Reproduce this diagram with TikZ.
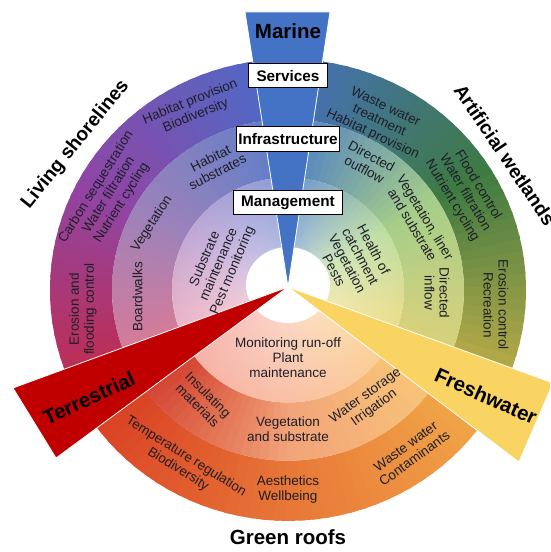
\documentclass[tikz,border=0pt]{standalone}
\usepackage{fontspec}
\setmainfont{Liberation Sans}
\usetikzlibrary{fadings}

% palette
\definecolor{marineblue}{HTML}{4472C4}
\definecolor{terrared}{HTML}{C00000}
\definecolor{freshgold}{HTML}{F9D463}
\definecolor{inkc}{HTML}{1E1E28}
\definecolor{wetO1}{HTML}{C4B048}\definecolor{wetO2}{HTML}{3E7A42}\definecolor{wetO3}{HTML}{4670C2}
\definecolor{wetM1}{HTML}{E0D27A}\definecolor{wetM2}{HTML}{A6CE88}\definecolor{wetM3}{HTML}{4C7CC8}
\definecolor{wetI1}{HTML}{F4DE88}\definecolor{wetI2}{HTML}{BEDEA2}\definecolor{wetI3}{HTML}{6690D0}
\definecolor{shoO1}{HTML}{4A6CC8}\definecolor{shoO2}{HTML}{8E46A6}\definecolor{shoO3}{HTML}{C42A48}
\definecolor{shoM1}{HTML}{5E7EC8}\definecolor{shoM2}{HTML}{9C82BA}\definecolor{shoM3}{HTML}{E07A92}
\definecolor{shoI1}{HTML}{8A9CD8}\definecolor{shoI2}{HTML}{C2A8D6}\definecolor{shoI3}{HTML}{F6B8C2}
\definecolor{roofO1}{HTML}{D83C22}\definecolor{roofO2}{HTML}{E87838}\definecolor{roofO3}{HTML}{F2AC4A}
\definecolor{roofM1}{HTML}{D03A2A}\definecolor{roofM2}{HTML}{F2A47A}\definecolor{roofM3}{HTML}{F8C878}
\definecolor{roofI1}{HTML}{F6B0A8}\definecolor{roofI2}{HTML}{F9C0A4}\definecolor{roofI3}{HTML}{FCD294}

% annular band from angle #3 to #4, radii #1..#2, blended through #5 -> #6 -> #7
\newcommand{\ringband}[7]{%
  \foreach \k in {0,...,39}{%
    \pgfmathsetmacro{\angA}{#3+(#4-#3)*\k/40}%
    \pgfmathsetmacro{\angB}{#3+(#4-#3)*(\k+1.4)/40}%
    \ifnum\k<20
      \pgfmathtruncatemacro{\mixp}{100-\k*5}%
      \colorlet{bandcol}{#5!\mixp!#6}%
    \else
      \pgfmathtruncatemacro{\mixp}{100-(\k-20)*5}%
      \colorlet{bandcol}{#6!\mixp!#7}%
    \fi
    \fill[bandcol] (\angA:#1) arc[start angle=\angA, end angle=\angB, radius=#1]
      -- (\angB:#2) arc[start angle=\angB, end angle=\angA, radius=#2] -- cycle;
  }%
}

\tikzfading[name=hubglow, inner color=transparent!50, outer color=transparent!100]

\begin{document}
\begin{tikzpicture}[x=1pt, y=1pt,
    ringtext/.style={font=\fontsize{13.5}{15}\selectfont, text=inkc, align=center, inner sep=0pt},
    tag/.style={draw=black, line width=1pt, fill=white, font=\fontsize{15.3}{17}\selectfont\bfseries, minimum height=24pt, inner xsep=2pt},
    sector/.style={font=\fontsize{20.5}{23}\selectfont\bfseries, text=black, inner sep=0pt},
    wedge/.style={draw=white, line width=0.8pt}
]
    \useasboundingbox (-288,-262) rectangle (262,290);
    \clip (-288,-262) rectangle (262,290);

    % Rings
    \begin{scope}[yscale=0.97]
        % Artificial wetlands
        \ringband{176}{238}{-28.7}{90}{wetO1}{wetO2}{wetO3}
        \ringband{116}{176}{-28.7}{90}{wetM1}{wetM2}{wetM3}
        \ringband{30}{116}{-28.7}{90}{wetI1}{wetI2}{wetI3}
        % Living shorelines
        \ringband{176}{238}{90}{208.2}{shoO1}{shoO2}{shoO3}
        \ringband{116}{176}{90}{208.2}{shoM1}{shoM2}{shoM3}
        \ringband{30}{116}{90}{208.2}{shoI1}{shoI2}{shoI3}
        % Green roofs
        \ringband{176}{238}{208.2}{331.3}{roofO1}{roofO2}{roofO3}
        \ringband{116}{176}{208.2}{331.3}{roofM1}{roofM2}{roofM3}
        \ringband{30}{116}{208.2}{331.3}{roofI1}{roofI2}{roofI3}
        % paler towards the middle
        \fill[white, path fading=hubglow] (0,0) circle [radius=116];
    \end{scope}

    % Hole
    \fill[white] (0,5) ellipse [x radius=42, y radius=38];

    % Wedges
    \coordinate (hub) at (0,3);
    \draw[wedge, fill=marineblue] (hub) -- (-43,278) -- (42,278) -- cycle;
    \draw[wedge, fill=terrared] (hub) -- (-275,-98) -- (-232,-168) -- cycle;
    \draw[wedge, fill=freshgold] (hub) -- (265,-93) -- (231,-172) -- cycle;

    % Living shorelines
    \node[ringtext, rotate=22] (shoreServ) at (-95,181) {Habitat provision\\Biodiversity};
    \node[ringtext, rotate=58] (shoreServ2) at (-179,95) {Carbon sequestration\\Water filtration\\Nutrient cycling};
    \node[ringtext, rotate=90] (shoreServ3) at (-205,-19) {Erosion and\\flooding control};
    \node[ringtext, rotate=27] (shoreInfra) at (-74,125) {Habitat\\substrates};
    \node[ringtext, rotate=57] (shoreInfra2) at (-136,66) {Vegetation};
    \node[ringtext, rotate=90] (shoreInfra3) at (-150.5,-7) {Boardwalks};
    \node[ringtext, rotate=67] (shoreMgmt) at (-69,25) {Substrate\\maintenance\\Pest monitoring};

    % Artificial wetlands
    \node[ringtext, rotate=-25] (wetServ) at (91,169) {Waste water\\treatment\\Habitat provision};
    \node[ringtext, rotate=-59] (wetServ2) at (177,97) {Flood control\\Water filtration\\Nutrient cycling};
    \node[ringtext, rotate=-90] (wetServ3) at (208,-15) {Erosion control\\Recreation};
    \node[ringtext, rotate=-28] (wetInfra) at (80,127) {Directed\\outflow};
    \node[ringtext, rotate=-59] (wetInfra2) at (131,69) {Vegetation, liner\\and substrate};
    \node[ringtext, rotate=-90] (wetInfra3) at (149,-3) {Directed\\inflow};
    \node[ringtext, rotate=-62] (wetMgmt) at (66,30) {Health of\\catchment\\Vegetation\\Pests};

    % Green roofs
    \node[ringtext] (roofMgmt) at (0,-68) {Monitoring run-off\\Plant\\maintenance};
    \node[ringtext, rotate=-45] (roofInfra) at (-85,-110) {Insulating\\materials};
    \node[ringtext] (roofInfra2) at (0,-139) {Vegetation\\and substrate};
    \node[ringtext, rotate=36] (roofInfra3) at (82,-112) {Water storage\\Irrigation};
    \node[ringtext, rotate=-32] (roofServ) at (-106,-173) {Temperature regulation\\Biodiversity};
    \node[ringtext] (roofServ2) at (0,-200) {Aesthetics\\Wellbeing};
    \node[ringtext, rotate=36] (roofServ3) at (122,-162.5) {Waste water\\Contaminants};

    % Ring tags
    \node[tag, minimum width=79pt] (services) at (0,214) {Services};
    \node[tag, minimum width=103pt] (infrastructure) at (0,151) {Infrastructure};
    \node[tag, minimum width=109pt] (management) at (0,87.5) {Management};

    % Sector titles
    \node[sector] (marine) at (0,259) {Marine};
    \node[sector, rotate=25] (terrestrial) at (-199,-108) {Terrestrial};
    \node[sector, rotate=-24] (freshwater) at (198,-106) {Freshwater};
    \node[sector, font=\fontsize{19.3}{22}\selectfont\bfseries, rotate=51] (living) at (-212.5,145.5) {Living shorelines};
    \node[sector, font=\fontsize{19.3}{22}\selectfont\bfseries, rotate=-56] (wetlands) at (217,135) {Artificial wetlands};
    \node[sector] (greenroofs) at (0,-247) {Green roofs};
\end{tikzpicture}
\end{document}
